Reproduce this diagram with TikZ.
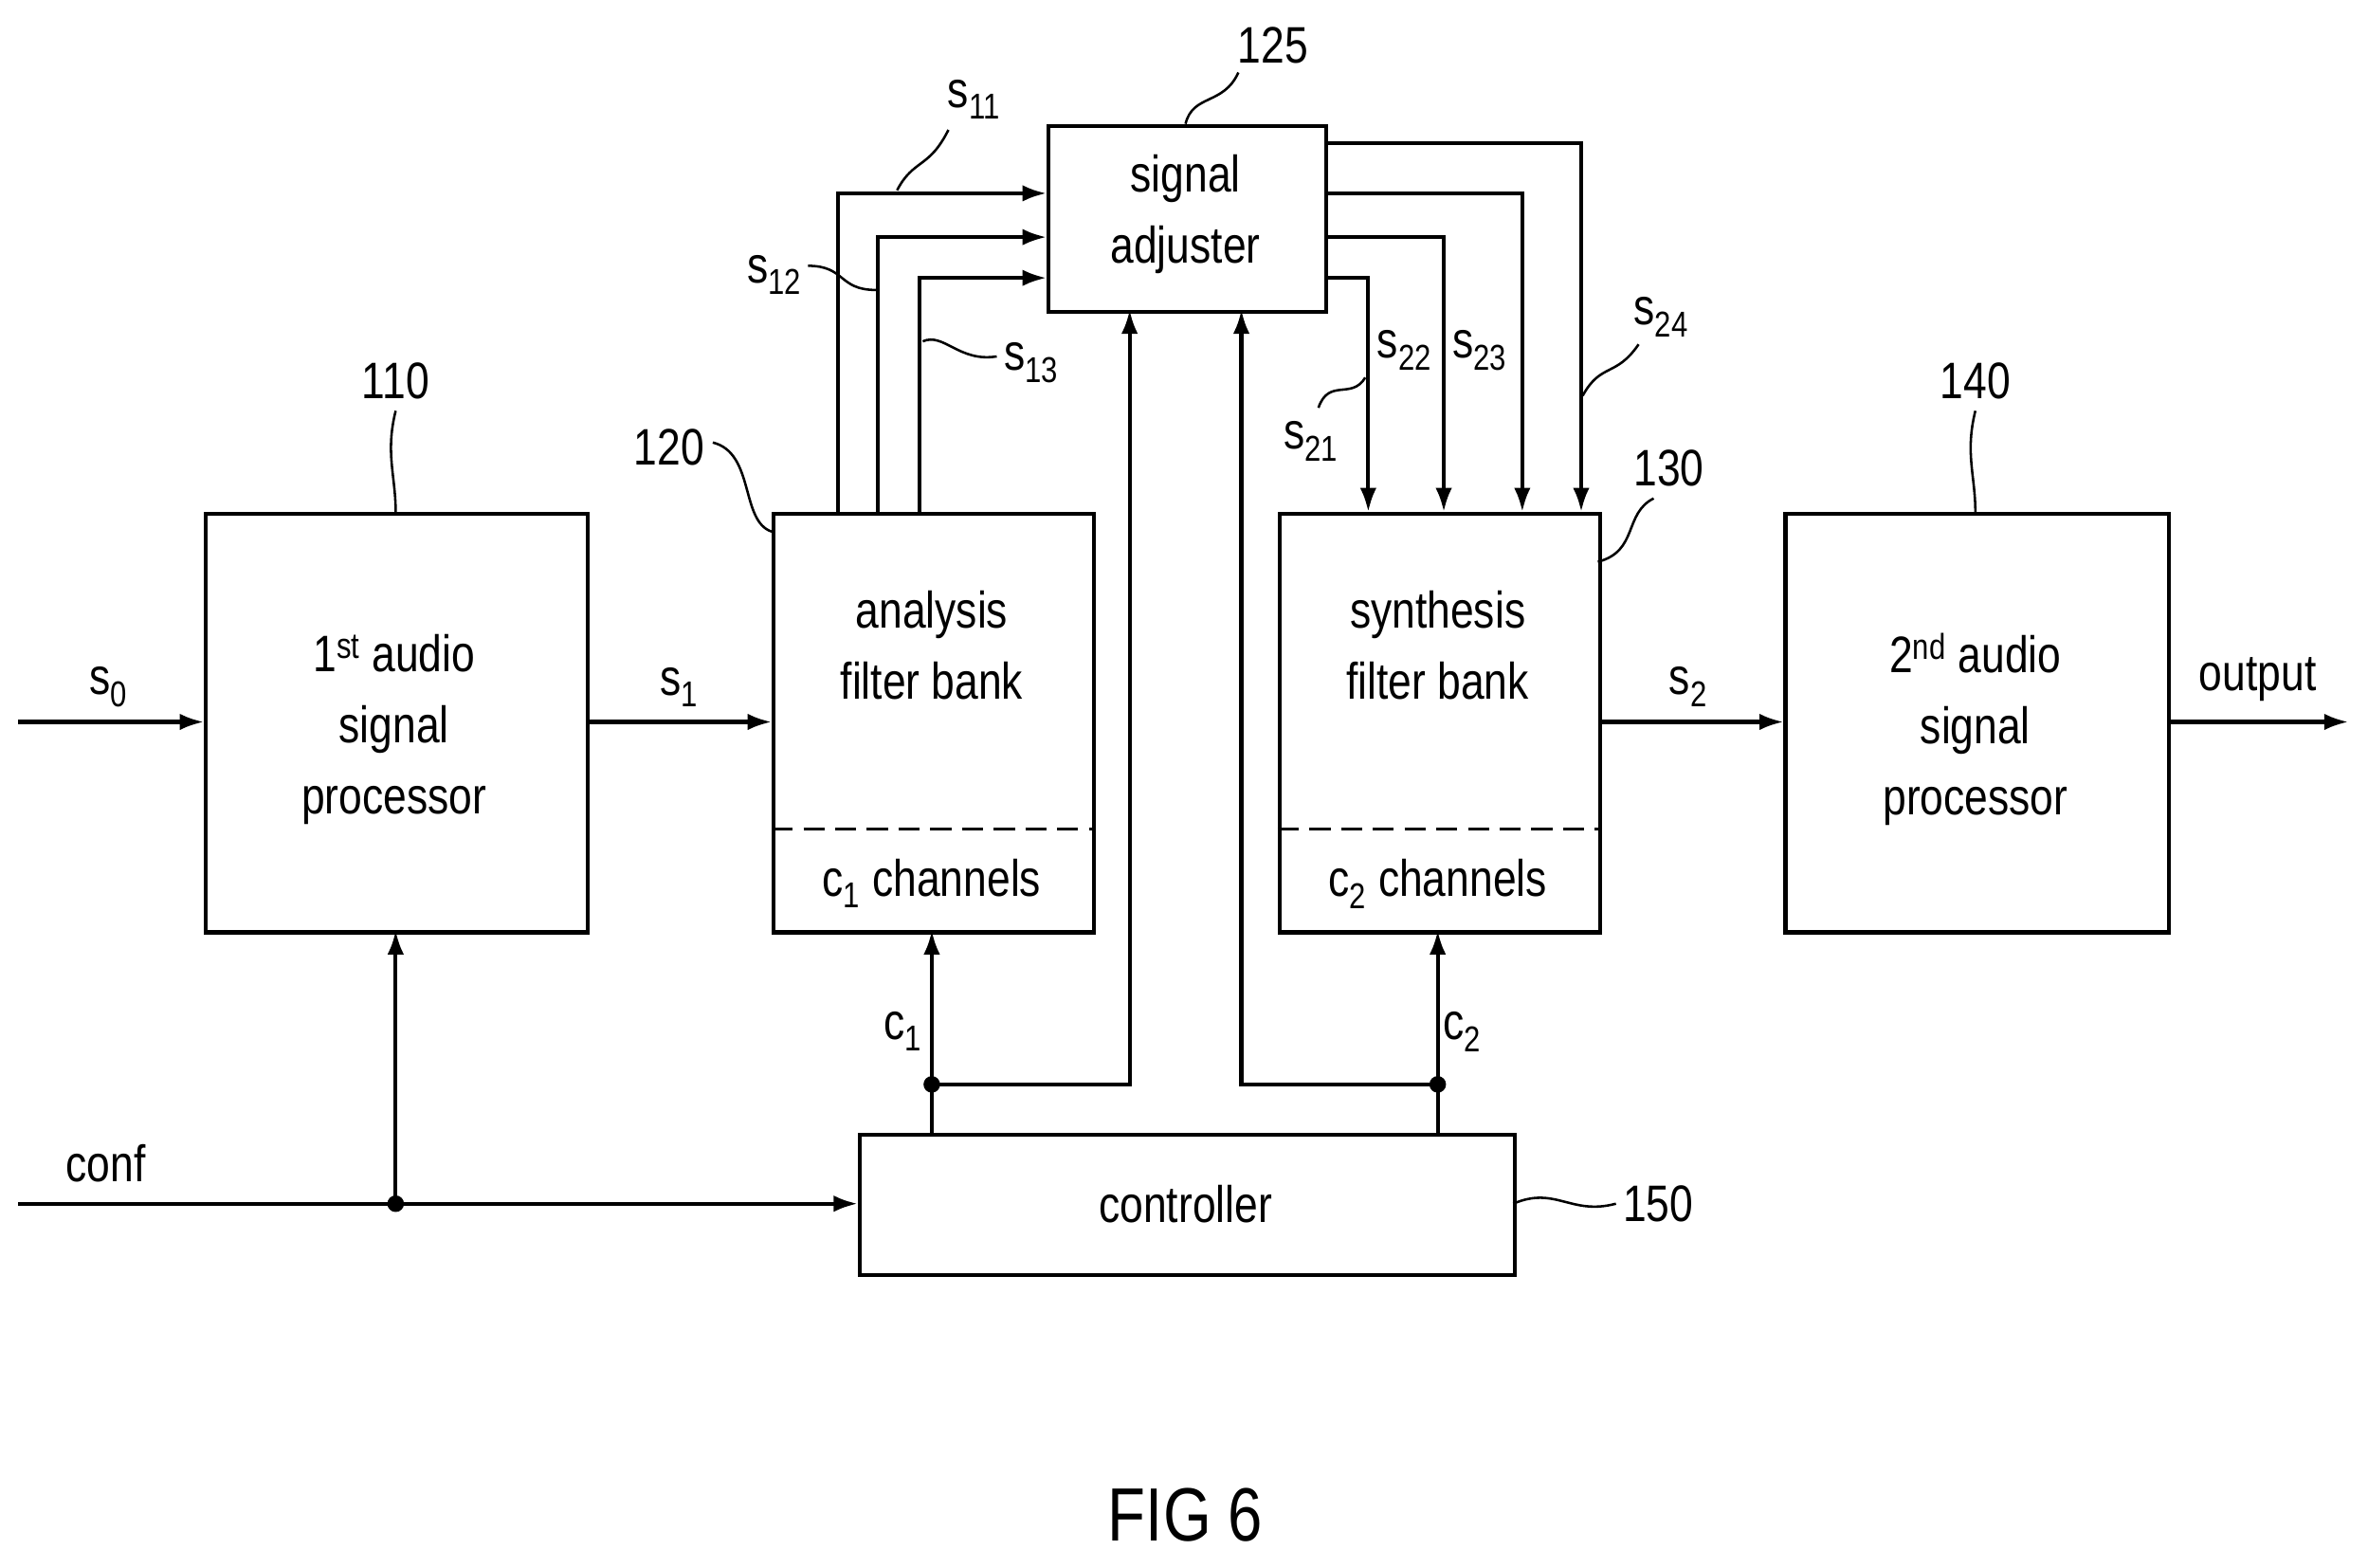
\documentclass[tikz,border=0pt]{standalone}
\usepackage{fontspec}
\setmainfont{Liberation Sans}[FakeStretch=0.82]
\usetikzlibrary{arrows.meta,calc}
\begin{document}
\begin{tikzpicture}[x=1pt,y=-1pt,
  every node/.style={font=\fontsize{34}{47}\selectfont},
  blk/.style={draw,line width=2.6pt,anchor=north west,inner sep=0pt},
  ln/.style={line width=2.6pt},
  ar/.style={line width=2.6pt,-{Latex[length=16pt,width=11pt]}},
  sq/.style={line width=1.6pt},
  dot/.style={circle,fill,inner sep=0pt,minimum size=11pt}]
\useasboundingbox (0,0) rectangle (1568,1038);
\node[blk,minimum width=253,minimum height=277] (b110) at (135,339) {};
\node[align=center] (t110) at (261,483) {1\textsuperscript{st} audio\\signal\\processor};
\node[blk,minimum width=212,minimum height=277] (b120) at (511,339) {};
\node[align=center] (t120) at (617,427) {analysis\\filter bank};
\node (c120) at (617,585) {c\textsubscript{1} channels};
\draw[line width=2pt,dash pattern=on 14pt off 7pt] (511,549) coordinate (d1) -- (723,549) coordinate (d2);
\node[blk,minimum width=184,minimum height=123] (b125) at (693,82) {};
\node[align=center] (t125) at (785,142) {signal\\adjuster};
\node[blk,minimum width=212,minimum height=277] (b130) at (846,339) {};
\node[align=center] (t130) at (952,427) {synthesis\\filter bank};
\node (c130) at (952,585) {c\textsubscript{2} channels};
\draw[line width=2pt,dash pattern=on 14pt off 7pt] (846,549) coordinate (d3) -- (1058,549) coordinate (d4);
\node[blk,minimum width=254,minimum height=277] (b140) at (1181,339) {};
\node[align=center] (t140) at (1308,483) {2\textsuperscript{nd} audio\\signal\\processor};
\node[blk,minimum width=434,minimum height=93] (b150) at (568,750) {};
\node (t150) at (785,797) {controller};
% main line
\coordinate (in) at (12,478); \coordinate (out) at (1555,478);
\draw[ar] (in) -- (b110.west |- in);
\draw[ar] (b110.east |- in) -- (b120.west |- in);
\draw[ar] (b130.east |- in) -- (b140.west |- in);
\draw[ar] (b140.east |- in) -- (out);
\node (ls0) at (72,455) {s\textsubscript{0}};
\node (ls1) at (450,455) {s\textsubscript{1}};
\node (ls2) at (1118,455) {s\textsubscript{2}};
\node (lout) at (1495,450) {output};
% conf
\coordinate (cf) at (12,797);
\node[dot] (j0) at (262,797) {};
\draw[ar] (cf) -- (b150.west |- cf);
\draw[ar] (j0.center) -- (262,616);
\node (lconf) at (70,770) {conf};
% controller outputs
\node[dot] (j1) at (617,718) {};
\node[dot] (j2) at (952,718) {};
\draw[ln] (617,750) -- (j1.center);
\draw[ar] (j1.center) -- (617,616);
\draw[ar] (j1.center) -- (748,718) -- (748,205);
\draw[ln] (952,750) -- (j2.center);
\draw[ar] (j2.center) -- (952,616);
\draw[ar] (j2.center) -- (822,718) -- (822,205);
\node (lc1) at (598,683) {c\textsubscript{1}};
\node (lc2) at (968,683) {c\textsubscript{2}};
% analysis to adjuster
\draw[ar] (555,339) -- (555,128) -- (693,128);
\draw[ar] (581,339) -- (581,157) -- (693,157);
\draw[ar] (609,339) -- (609,184) -- (693,184);
% adjuster to synthesis
\draw[ar] (877,184) -- (906,184) -- (906,339);
\draw[ar] (877,157) -- (956,157) -- (956,339);
\draw[ar] (877,128) -- (1008,128) -- (1008,339);
\draw[ar] (877,95) -- (1047,95) -- (1047,339);
% signal labels
\node (l11) at (645,66) {s\textsubscript{11}};
\draw[sq] (594,126) .. controls (605,105) and (615,112) .. (628,86);
\node (l12) at (513,182) {s\textsubscript{12}};
\draw[sq] (535,176) .. controls (560,176) and (555,192) .. (580,192);
\node (l13) at (683,240) {s\textsubscript{13}};
\draw[sq] (611,226) .. controls (625,220) and (635,240) .. (660,236);
\node (l21) at (868,292) {s\textsubscript{21}};
\draw[sq] (873,270) .. controls (880,250) and (895,265) .. (904,250);
\node (l22) at (930,232) {s\textsubscript{22}};
\node (l23) at (980,232) {s\textsubscript{23}};
\node (l24) at (1100,210) {s\textsubscript{24}};
\draw[sq] (1048,262) .. controls (1060,240) and (1070,250) .. (1085,228);
% reference numbers
\node (n110) at (262,252) {110};
\draw[sq] (262,339) .. controls (262,315) and (255,300) .. (262,272);
\node (n120) at (443,296) {120};
\draw[sq] (511,352) .. controls (490,345) and (500,300) .. (472,293);
\node (n125) at (843,30) {125};
\draw[sq] (785,82) .. controls (790,62) and (810,70) .. (820,48);
\node (n130) at (1105,310) {130};
\draw[sq] (1058,372) .. controls (1085,365) and (1075,340) .. (1095,330);
\node (n140) at (1308,252) {140};
\draw[sq] (1308,339) .. controls (1308,315) and (1301,300) .. (1308,272);
\node (n150) at (1098,797) {150};
\draw[sq] (1002,797) .. controls (1030,785) and (1040,805) .. (1070,797);
\node[font=\fontsize{50}{55}\selectfont] (fig) at (785,1003) {FIG 6};
\end{tikzpicture}
\end{document}
